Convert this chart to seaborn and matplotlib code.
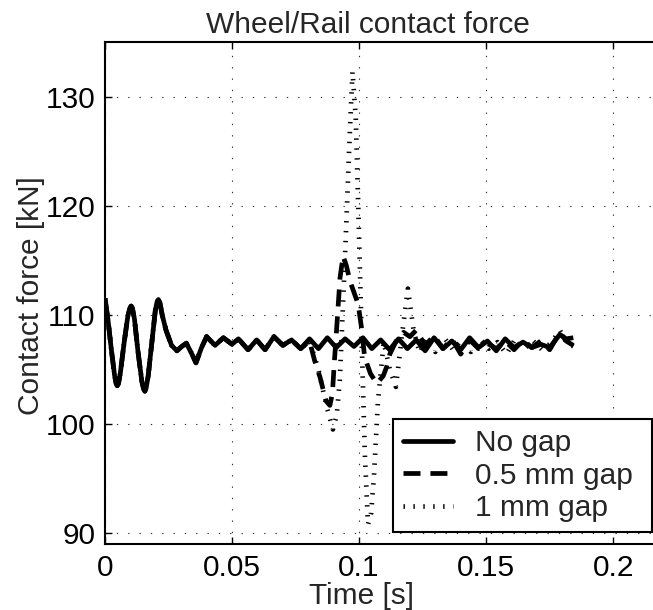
import matplotlib
matplotlib.use("Agg")
import matplotlib.pyplot as plt
from matplotlib.lines import Line2D
import pandas as pd
import seaborn as sns

sns.set_theme(style="white")
plt.rcParams['font.family'] = ['Liberation Sans', 'DejaVu Sans']

# Contact force samples (time [s], force [kN])
no_gap = [
    (0.0000, 111.5), (0.0012, 109.5), (0.0025, 106.8), (0.0038, 104.4), (0.0044, 103.7),
    (0.0048, 103.5), (0.0053, 103.7), (0.0060, 104.6), (0.0075, 107.4), (0.0090, 109.9),
    (0.0098, 110.6), (0.0103, 110.8), (0.0108, 110.6), (0.0116, 109.6), (0.0130, 106.6),
    (0.0145, 103.9), (0.0152, 103.2), (0.0157, 103.0), (0.0162, 103.3), (0.0170, 104.4),
    (0.0185, 107.6), (0.0198, 110.4), (0.0205, 111.2), (0.0210, 111.4), (0.0216, 111.1),
    (0.0225, 110.0), (0.0240, 108.6), (0.0262, 107.2), (0.0283, 106.7), (0.0302, 107.1),
    (0.0320, 107.4), (0.0340, 106.5), (0.0358, 105.6), (0.0380, 107.0), (0.0400, 108.0),
    (0.0433, 107.2), (0.0466, 107.9), (0.0500, 107.3), (0.0525, 107.8), (0.0563, 106.8),
    (0.0597, 107.7), (0.0630, 106.8), (0.0665, 108.0), (0.0700, 107.2), (0.0734, 107.7),
    (0.0770, 106.9), (0.0805, 107.8), (0.0840, 106.9), (0.0875, 107.9), (0.0910, 107.0),
    (0.0945, 107.8), (0.0980, 107.1), (0.1015, 107.9), (0.1050, 106.9), (0.1085, 107.7),
    (0.1120, 106.8), (0.1155, 107.8), (0.1190, 106.9), (0.1225, 107.7), (0.1260, 106.7),
    (0.1295, 107.9), (0.1330, 106.9), (0.1365, 107.6), (0.1400, 106.8), (0.1435, 107.9),
    (0.1470, 107.0), (0.1505, 107.6), (0.1540, 106.7), (0.1575, 107.8), (0.1610, 107.0),
    (0.1645, 107.5), (0.1680, 107.0), (0.1715, 107.3), (0.1750, 107.0), (0.1790, 108.2),
    (0.1815, 107.8), (0.1843, 107.9),
]

# Before the gap is reached all three runs coincide
common_start = [p for p in no_gap if p[0] < 0.0805]

gap_05mm = common_start + [
    (0.0805, 107.6), (0.0825, 105.8), (0.0846, 104.3), (0.0870, 102.1), (0.0885, 101.7),
    (0.0895, 102.8), (0.0903, 105.8), (0.0911, 108.5), (0.0925, 113.4), (0.0937, 115.4),
    (0.0950, 114.5), (0.0964, 113.1), (0.0996, 111.0), (0.1009, 108.9), (0.1022, 106.1),
    (0.1045, 104.6), (0.1070, 103.7), (0.1095, 104.4), (0.1108, 105.2), (0.1121, 106.4),
    (0.1150, 107.8), (0.1175, 108.4), (0.1200, 108.0), (0.1225, 108.6), (0.1260, 107.2),
    (0.1295, 108.1), (0.1330, 106.9), (0.1365, 107.8), (0.1400, 106.4), (0.1435, 107.7),
    (0.1470, 106.9), (0.1505, 107.4), (0.1540, 106.9), (0.1575, 107.6), (0.1610, 106.8),
    (0.1645, 107.7), (0.1680, 107.0), (0.1715, 107.6), (0.1750, 106.8), (0.1790, 108.4),
    (0.1815, 107.6), (0.1843, 107.2),
]

gap_1mm = common_start + [
    (0.0805, 107.6), (0.0840, 105.0), (0.0870, 101.8), (0.0897, 99.5), (0.0912, 100.8),
    (0.0924, 104.0), (0.0944, 115.0), (0.0964, 127.0), (0.0974, 132.3), (0.0987, 128.0),
    (0.0999, 118.0), (0.1011, 107.0), (0.1023, 97.0), (0.1035, 90.8), (0.1047, 91.8),
    (0.1058, 95.0), (0.1074, 102.0), (0.1097, 107.5), (0.1121, 105.0), (0.1145, 103.4),
    (0.1168, 108.0), (0.1192, 112.4), (0.1215, 108.5), (0.1239, 106.5), (0.1265, 107.9),
    (0.1300, 106.6), (0.1335, 107.9), (0.1370, 106.8), (0.1405, 107.7), (0.1440, 106.6),
    (0.1475, 107.8), (0.1510, 106.9), (0.1545, 107.5), (0.1580, 106.4), (0.1615, 107.8),
    (0.1650, 106.9), (0.1685, 107.6), (0.1720, 106.8), (0.1755, 107.4), (0.1790, 108.6),
    (0.1815, 107.5), (0.1843, 107.1),
]

series_labels = ["No gap", "0.5 mm gap", "1 mm gap"]
x_ticks = [0, 0.05, 0.1, 0.15, 0.2]
x_tick_labels = ["0", "0.05", "0.1", "0.15", "0.2"]
y_ticks = [90, 100, 110, 120, 130]

FS = 21.5
LW = 3.4
DASHED = (3.6, 2.1)
DOTTED = (0.3, 1.8)

fig = plt.figure(figsize=(6.53, 6.10), dpi=100)
ax = fig.add_axes([105 / 653, 66 / 610, 559 / 653, 502 / 610])


def frame(points):
    return pd.DataFrame(points, columns=["time", "force"])


for name, pts, dashes in [("1 mm gap", gap_1mm, DOTTED),
                          ("0.5 mm gap", gap_05mm, DASHED),
                          ("No gap", no_gap, None)]:
    n_before = len(ax.lines)
    sns.lineplot(data=frame(pts), x="time", y="force", ax=ax, color="black",
                 linewidth=LW, estimator=None, sort=False, legend=False)
    line = ax.lines[n_before]
    if dashes is not None:
        line.set_dashes(dashes)
        line.set_dash_capstyle("butt")
    line.set_solid_joinstyle("round")
    line.set_solid_capstyle("butt")

ax.set_xlim(0, 0.22)
ax.set_ylim(89, 135)
ax.set_xticks(x_ticks)
ax.set_xticklabels(x_tick_labels)
ax.set_yticks(y_ticks)

ax.grid(True, color="#333333", linestyle=(0, (1.2, 9.0)), linewidth=0.8)
ax.set_axisbelow(True)

for s in ax.spines.values():
    s.set_color("black")
    s.set_linewidth(1.5)
ax.spines["right"].set_visible(False)

ax.tick_params(direction="in", length=5, width=1, top=True, right=False,
               bottom=True, left=True, labelsize=FS, pad=7, colors="black")

ax.set_title("Wheel/Rail contact force", fontsize=FS, pad=0, y=1.018, va="baseline")
ax.title.set_x(0.471)
ax.set_xlabel("Time [s]", fontsize=FS)
ax.xaxis.set_label_coords(0.458, -0.075)
ax.xaxis.label.set_va("top")
ax.set_ylabel("Contact force [kN]", fontsize=FS)
ax.yaxis.set_label_coords(-0.107, 0.494)

leg_handles = [
    Line2D([], [], color="black", lw=LW),
    Line2D([], [], color="black", lw=LW, dashes=DASHED, dash_capstyle="butt"),
    Line2D([], [], color="black", lw=LW, dashes=DOTTED, dash_capstyle="butt"),
]
leg = ax.legend(leg_handles, series_labels, loc="lower left",
                bbox_to_anchor=(0.515, 0.024, 0.463, 0.2), mode="expand",
                borderaxespad=0, fontsize=FS, frameon=True, fancybox=False,
                edgecolor="black", framealpha=1, handlelength=1.67,
                handletextpad=0.75, borderpad=0.33, labelspacing=0.15)
leg.get_frame().set_linewidth(1.5)

fig.savefig("out.png", dpi=100)
